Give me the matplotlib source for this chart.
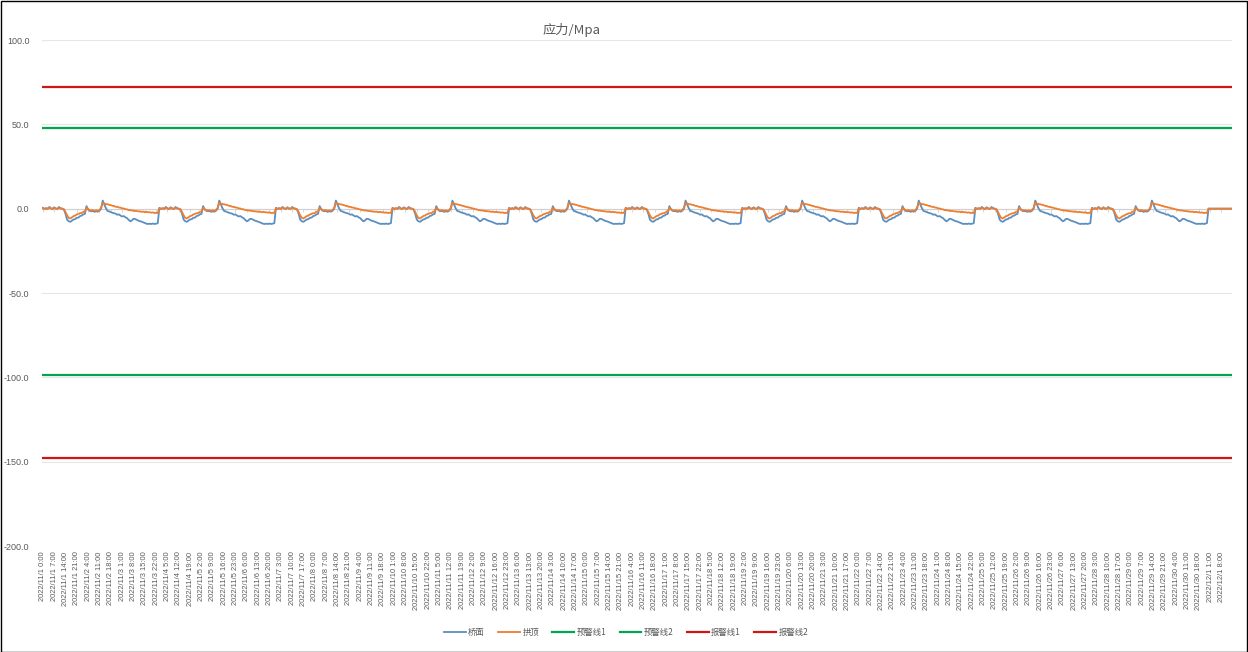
import numpy as np
import pandas as pd
import matplotlib
matplotlib.use('Agg')
import matplotlib.pyplot as plt
from matplotlib.patches import Rectangle

plt.rcParams['font.family'] = ['Noto Sans CJK SC', 'DejaVu Sans']

# %% data: one 72-hour cycle, repeated 10 times, then a flat tail
deck_cycle = [0.5, -0.2, 0.3, -0.1, 1.0, 0.2, -0.2, 0.8, 0.1, -0.1, 1.0, 0.2, 0, -0.5,
              -3, -6.5, -7.5, -7.8, -7.1, -6.4, -6.2, -5.4, -5.3, -4.4, -4.1, -3.4, -3.1,
              1.5, -0.5, -1.3, -1.5, -1.4, -1.9, -1.5, -1.8, -1.2, 0, 4.8, 2.5, 0.2,
              -1.4, -1.6, -2.1, -2.4, -2.7, -3.0, -3.6, -3.4, -4.1, -4.6, -4.4, -5.1, -5.6,
              -6.6, -7.5, -7.0, -6.0, -6.1, -6.6, -7.1, -7.4, -7.7, -8.1, -8.5, -8.9, -9.1, -8.9,
              -9.1, -8.8, -9.1, -8.9, -8.6]
arch_cycle = [0.3, -0.1, 0.2, -0.1, 0.6, 0.1, -0.1, 0.5, 0, -0.1, 0.6, 0.1, 0, -0.3,
              -2, -4, -5.5, -5.8, -5.1, -4.4, -4.1, -3.4, -3.1, -2.7, -2.6, -1.9, -1.6,
              0.5, -0.3, -0.9, -1.0, -0.9, -1.3, -1.0, -1.3, -0.8, 0.5, 3.4, 3.0, 2.7,
              2.6, 2.3, 2.1, 1.7, 1.6, 1.1, 1.1, 0.7, 0.6, 0.2, 0.1, -0.3, -0.4,
              -0.8, -0.9, -1.1, -1.1, -1.4, -1.4, -1.6, -1.6, -1.9, -1.7, -2.1, -1.9, -2.1,
              -2.1, -2.4, -2.2, -2.6, -2.4, -2.6]
n_cycles = 10
tail = [0] * 15

deck = np.array(deck_cycle * n_cycles + tail)   # 桥面
arch = np.array(arch_cycle * n_cycles + tail)   # 拱顶
n = len(deck)

warn1 = 48      # 预警线1
warn2 = -98.5   # 预警线2
alarm1 = 72     # 报警线1
alarm2 = -148   # 报警线2

times = pd.date_range('2022-11-01 00:00', periods=n, freq='h')
labels = [f'{t.year}/{t.month}/{t.day} {t.hour}:00' for t in times]
label_step = 7

# %% plot
W, H = 1248, 652
fig = plt.figure(figsize=(W / 100, H / 100), dpi=100)
ax = fig.add_axes([42 / W, 1 - 546 / H, (1232 - 42) / W, (546 - 40) / H])

x = np.arange(n)
grey = '#595959'
ax.plot(x, deck, color='#5B8FC0', lw=1.3, label='桥面', zorder=3)
ax.plot(x, arch, color='#ED7D31', lw=1.3, label='拱顶', zorder=4)
ax.plot(x, np.full(n, warn1), color='#00A550', lw=1.6, label='预警线1', zorder=5)
ax.plot(x, np.full(n, warn2), color='#00A550', lw=1.6, label='预警线2', zorder=5)
ax.plot(x, np.full(n, alarm1), color='#D01515', lw=1.6, label='报警线1', zorder=5)
ax.plot(x, np.full(n, alarm2), color='#D01515', lw=1.6, label='报警线2', zorder=5)

ax.set_xlim(-0.5, n - 0.5)
ax.set_ylim(-200, 100)
ax.set_yticks(np.arange(-200, 101, 50))
ax.set_yticklabels([f'{v:.1f}' for v in np.arange(-200, 101, 50)],
                   fontsize=6.5, color=grey, family=['Liberation Sans'])
ax.grid(axis='y', color='#E6E6E6', lw=0.8)
ax.set_axisbelow(True)
for s in ax.spines.values():
    s.set_visible(False)
ax.tick_params(axis='y', length=0, pad=9)

tick_pos = x[::label_step]
ax.set_xticks(tick_pos)
ax.set_xticklabels(labels[::label_step], rotation=90, fontsize=5.4, color=grey,
                   family=['Liberation Sans'])
ax.tick_params(axis='x', length=0, pad=4)

# category axis crossing at 0
ax.axhline(0, color='#D0D0D0', lw=0.8, zorder=2)
sec = ax.secondary_xaxis(2 / 3)
sec.set_xticks(tick_pos)
sec.set_xticklabels([])
sec.tick_params(axis='x', direction='out', length=2.5, color='#D0D0D0', width=0.6)
sec.spines['top'].set_visible(False)
sec.spines['bottom'].set_visible(False)
sec.xaxis.set_ticks_position('bottom')

fig.text(572 / W, 1 - 30 / H, '应力/Mpa', ha='center', va='center',
         fontsize=9.5, color=grey)

leg = fig.legend(loc='center', bbox_to_anchor=(626 / W, 1 - 632 / H), ncol=6,
                 frameon=False, fontsize=6, handlelength=2.6, columnspacing=1.6,
                 handletextpad=0.3)
for t in leg.get_texts():
    t.set_color(grey)

fig.add_artist(Rectangle((0.5 / W, 0.5 / H), 1 - 1.5 / W, 1 - 1.5 / H,
                         transform=fig.transFigure, fill=False,
                         edgecolor='black', lw=1))

fig.savefig('out.png', dpi=100)
